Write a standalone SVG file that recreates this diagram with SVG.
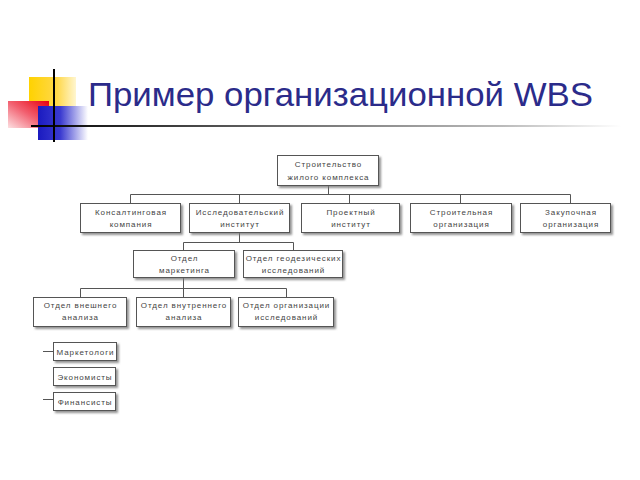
<svg xmlns="http://www.w3.org/2000/svg" width="640" height="480" viewBox="0 0 640 480">
<defs>
<linearGradient id="gy" x1="0" y1="0" x2="1" y2="0"><stop offset="0" stop-color="#ffd200"/><stop offset="0.6" stop-color="#ffd84a"/><stop offset="1" stop-color="#fff6d0"/></linearGradient>
<linearGradient id="gr" x1="1" y1="0" x2="0" y2="1"><stop offset="0" stop-color="#e8000e"/><stop offset="0.5" stop-color="#f26070"/><stop offset="1" stop-color="#fde0e2"/></linearGradient>
<linearGradient id="gb" x1="0" y1="0" x2="1" y2="0"><stop offset="0" stop-color="#1a1ac0"/><stop offset="0.45" stop-color="#3b3bd0"/><stop offset="1" stop-color="#ffffff"/></linearGradient>
<linearGradient id="gl" x1="0" y1="0" x2="1" y2="0"><stop offset="0" stop-color="#000"/><stop offset="0.4" stop-color="#666"/><stop offset="0.8" stop-color="#bbb"/><stop offset="1" stop-color="#fff"/></linearGradient>
<filter id="sh" x="-10%" y="-10%" width="130%" height="150%"><feDropShadow dx="2" dy="2" stdDeviation="0.8" flood-color="#777" flood-opacity="0.8"/></filter>
</defs>
<style>
.box{fill:#fff;stroke:#555;stroke-width:1;filter:url(#sh)}
.t{font-family:"Liberation Sans",Arial,sans-serif;font-size:8px;letter-spacing:0.9px;fill:#444;text-anchor:middle}
.c{fill:none;stroke:#555;stroke-width:1}
.title{font-family:"Liberation Sans",Arial,sans-serif;font-size:34px;fill:#2b2b8a}
</style>
<g id="decor">
<rect x="29" y="77" width="47" height="40" fill="url(#gy)"/>
<rect x="8" y="101" width="41" height="27" fill="url(#gr)"/>
<rect x="38" y="106" width="50" height="34" fill="url(#gb)"/>
<rect x="31" y="125" width="590" height="2" fill="url(#gl)"/>
<rect x="53" y="69" width="2" height="73" fill="#000"/>
</g>
<text class="title" x="88" y="106" textLength="505" lengthAdjust="spacingAndGlyphs">Пример организационной WBS</text>
<g id="connectors">
<path class="c" d="M328.5 186V194.5M130.5 194.5H570.5M130.5 194.5V203M239.5 194.5V203M349.5 194.5V203M460.5 194.5V203M570.5 194.5V203"/>
<path class="c" d="M239.5 233V242.5M183.5 242.5H293.5M183.5 242.5V250M293.5 242.5V250"/>
<path class="c" d="M183.5 278V297M80.5 288.5H286.5M80.5 288.5V297M286.5 288.5V297"/>
<path class="c" d="M43 351.5H53M43 399.5H53"/>
</g>
<g id="n-root"><rect class="box" x="277.5" y="155.5" width="101" height="30"/><text class="t" x="328.5" y="167">Строительство</text><text class="t" x="328.5" y="180">жилого комплекса</text></g>
<g id="n-kons"><rect class="box" x="80.5" y="203.5" width="100" height="29"/><text class="t" x="131" y="215">Консалтинговая</text><text class="t" x="131" y="227">компания</text></g>
<g id="n-issl"><rect class="box" x="189.5" y="203.5" width="100" height="29"/><text class="t" x="240" y="215">Исследовательский</text><text class="t" x="240" y="227">институт</text></g>
<g id="n-proekt"><rect class="box" x="301.5" y="203.5" width="98" height="29"/><text class="t" x="351" y="215">Проектный</text><text class="t" x="351" y="227">институт</text></g>
<g id="n-stroit"><rect class="box" x="410.5" y="203.5" width="101" height="29"/><text class="t" x="461.5" y="215">Строительная</text><text class="t" x="461.5" y="227">организация</text></g>
<g id="n-zakup"><rect class="box" x="520.5" y="203.5" width="90" height="29"/><text class="t" x="571" y="215">Закупочная</text><text class="t" x="571" y="227">организация</text></g>
<g id="n-market"><rect class="box" x="133.5" y="250.5" width="101" height="27"/><text class="t" x="184.5" y="261">Отдел</text><text class="t" x="184.5" y="273">маркетинга</text></g>
<g id="n-geo"><rect class="box" x="243.5" y="250.5" width="99" height="27"/><text class="t" x="293.5" y="261">Отдел геодезических</text><text class="t" x="293.5" y="273">исследований</text></g>
<g id="n-vnesh"><rect class="box" x="33.5" y="297.5" width="93" height="29"/><text class="t" x="80.5" y="308">Отдел внешнего</text><text class="t" x="80.5" y="320">анализа</text></g>
<g id="n-vnutr"><rect class="box" x="136.5" y="297.5" width="94" height="29"/><text class="t" x="184" y="308">Отдел внутреннего</text><text class="t" x="184" y="320">анализа</text></g>
<g id="n-org"><rect class="box" x="238.5" y="297.5" width="95" height="29"/><text class="t" x="286.5" y="308">Отдел организации</text><text class="t" x="286.5" y="320">исследований</text></g>
<g id="n-mk"><rect class="box" x="53.5" y="342.5" width="63" height="18"/><text class="t" x="85.5" y="354.5">Маркетологи</text></g>
<g id="n-ek"><rect class="box" x="53.5" y="367.5" width="62" height="18"/><text class="t" x="85" y="379.5">Экономисты</text></g>
<g id="n-fin"><rect class="box" x="53.5" y="392.5" width="62" height="18"/><text class="t" x="85" y="404.5">Финансисты</text></g>
</svg>
